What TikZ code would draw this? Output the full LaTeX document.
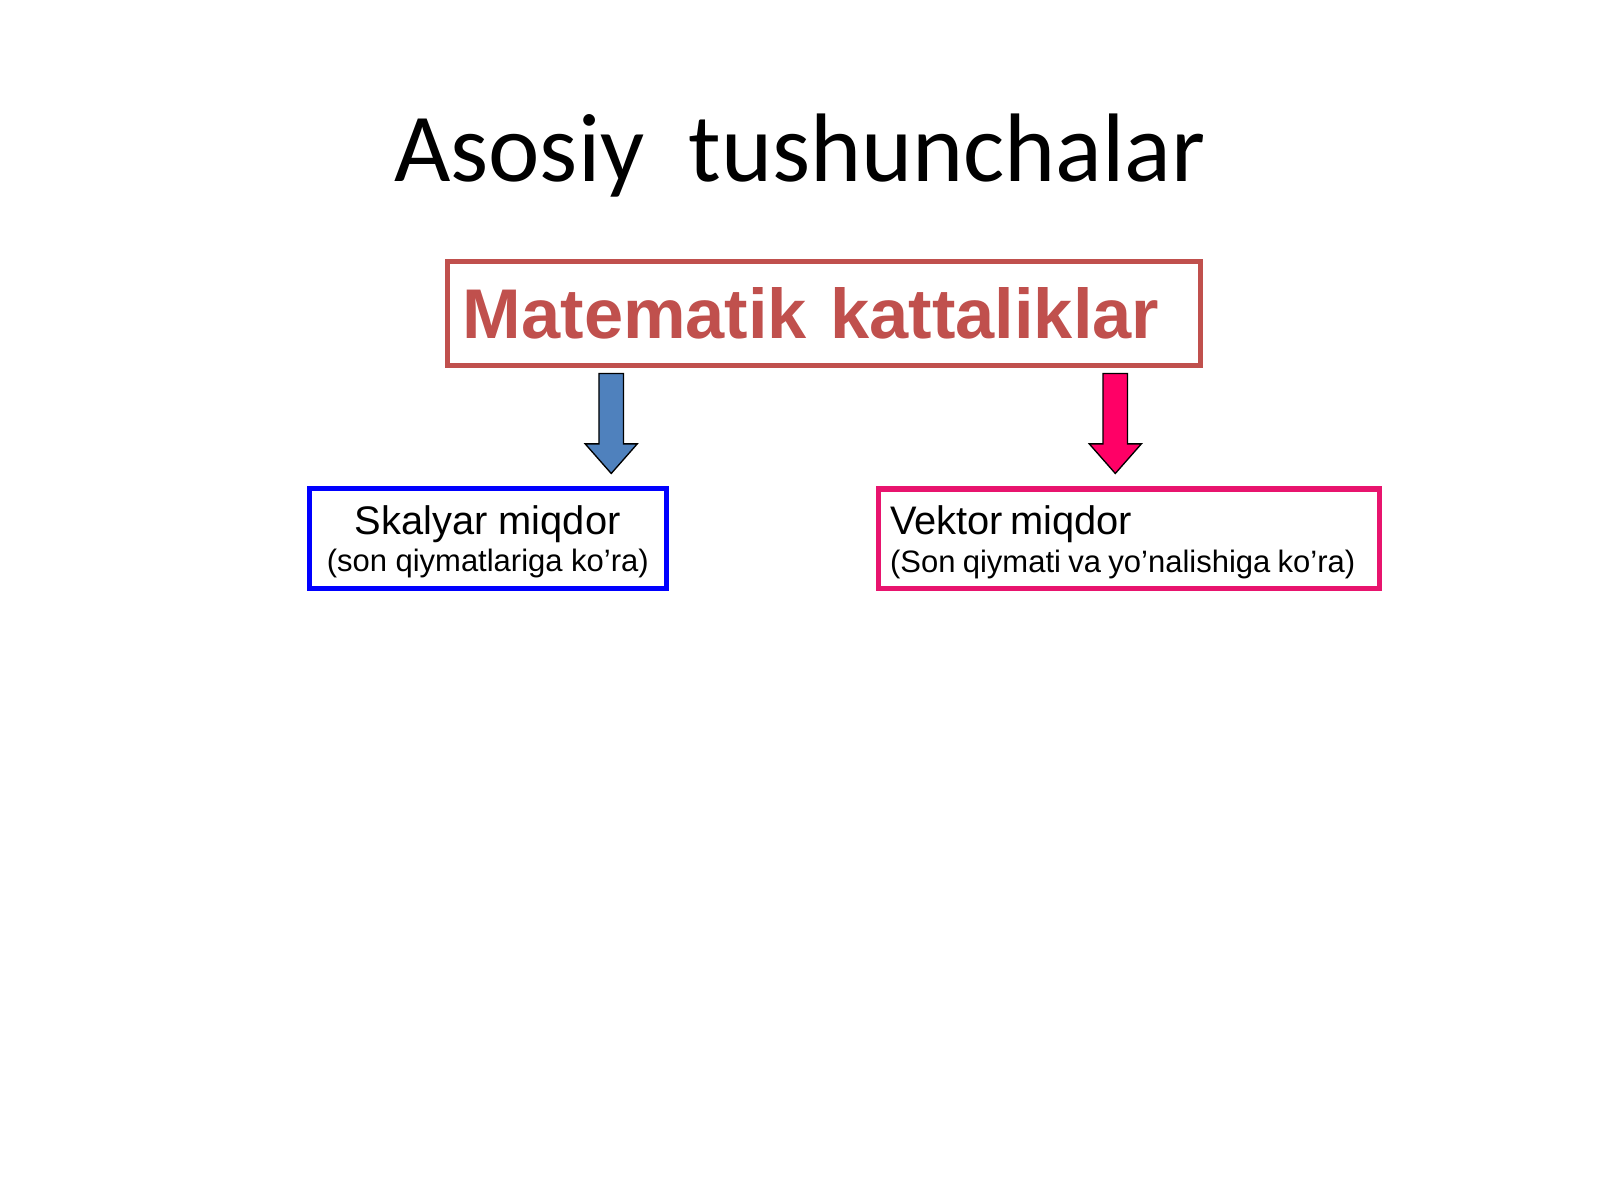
\documentclass[tikz,border=0pt]{standalone}
\usepackage{fontspec}
\setmainfont{Liberation Sans}
\newfontfamily\titlefont{Carlito}
\usepackage{tikz}
\usetikzlibrary{positioning}
\usetikzlibrary{arrows,calc}
\definecolor{kred}{RGB}{192,80,77}
\definecolor{kblue}{RGB}{79,129,189}
\definecolor{kpink}{RGB}{255,0,102}
\definecolor{kframe}{RGB}{232,20,110}
\tikzset{
    every picture/.style={>=stealth,auto,node distance=2cm},
    mainbox/.style={draw=kred,line width=2.3pt,minimum width=340.3pt,minimum height=46.8pt,
        text width=326.3pt,inner xsep=7pt,align=left,text=kred,
        font=\fontsize{31.8}{36}\selectfont\bfseries},
    subbox/.style={line width=2.3pt,minimum height=45pt,inner ysep=2pt},
    blockarr/.style={draw=black,line width=0.6pt,line join=miter},
}

\begin{document}
\begin{tikzpicture}[x=0.0162cm,y=-0.0162cm]
\useasboundingbox (0,0) rectangle (1568,1176);

\node[anchor=base,font=\titlefont\fontsize{44}{50}\selectfont] (t) at (784,178) {Asosiy\ \ tushunchalar};

\node[mainbox] (m) at (807.5,307) {Matematik kattaliklar};

\node[subbox,draw=blue,minimum width=161.2pt,align=center] (s) at (478,527.5)
  {\fontsize{18}{21}\selectfont\rule{0pt}{16.3pt}Skalyar miqdor\\[2pt]
   \fontsize{14}{16}\selectfont (son qiymatlariga ko’ra)};
\node[subbox,draw=kframe,minimum width=226.5pt,text width=216pt,inner xsep=5.25pt,align=left] (v) at (1106.5,528)
  {\fontsize{18}{21}\selectfont\rule{0pt}{16.3pt}Vektor miqdor\\[2pt]
   \fontsize{14}{16}\selectfont (Son qiymati va yo’nalishiga ko’ra)};

\foreach \x/\c in {599/kblue,1093/kpink}{
  \draw[blockarr,fill=\c] (\x-12,366) -- (\x+12,366) -- (\x+12,435) -- (\x+25.5,435)
    -- (\x,464) -- (\x-25.5,435) -- (\x-12,435) -- cycle;
}

\end{tikzpicture}
\end{document}
